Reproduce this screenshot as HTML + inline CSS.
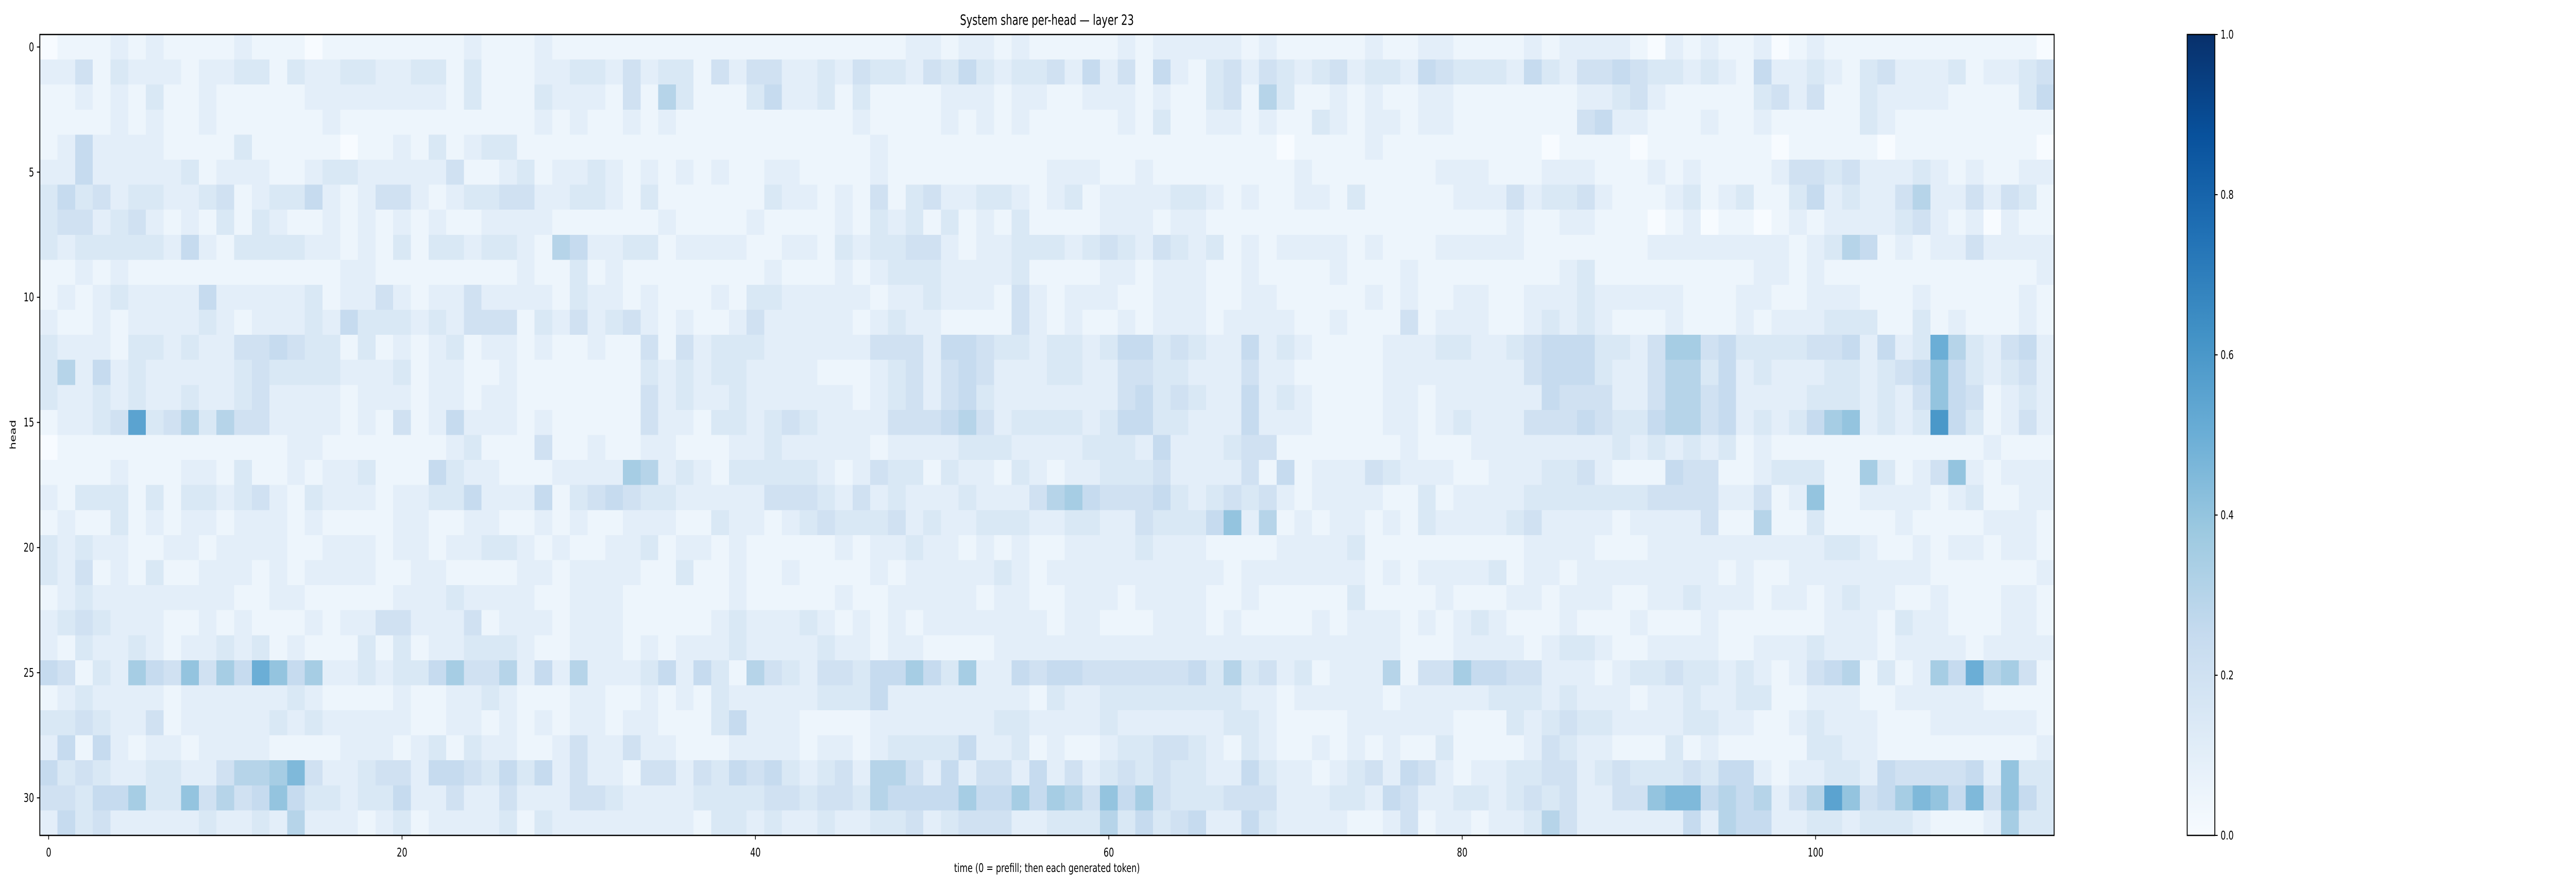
<!DOCTYPE html>
<html><head><meta charset="utf-8"><title>System share per-head — layer 23</title>
<style>
html,body{margin:0;padding:0;background:#fff;width:100%;height:100%;overflow:hidden;}
svg{display:block;width:100vw;height:100vh;font-family:"DejaVu Sans","Liberation Sans",sans-serif;}
</style></head>
<body>
<svg id="fig" viewBox="0 0 7182 1728" preserveAspectRatio="none" xmlns="http://www.w3.org/2000/svg">
<defs>
<linearGradient id="blues" x1="0" y1="1" x2="0" y2="0">
<stop offset="0" stop-color="#f7fbff"/><stop offset="0.125" stop-color="#deebf7"/>
<stop offset="0.25" stop-color="#c6dbef"/><stop offset="0.375" stop-color="#9ecae1"/>
<stop offset="0.5" stop-color="#6baed6"/><stop offset="0.625" stop-color="#4292c6"/>
<stop offset="0.75" stop-color="#2171b5"/><stop offset="0.875" stop-color="#08519c"/>
<stop offset="1" stop-color="#08306b"/>
</linearGradient>
</defs>
<rect x="0" y="0" width="7182" height="1728" fill="#fff"/>
<text x="2919" y="48" font-size="28" text-anchor="middle" fill="#000">System share per-head — layer 23</text>
<g id="cells" shape-rendering="crispEdges"></g>
<rect x="111" y="67" width="5616" height="1555" fill="none" stroke="#000" stroke-width="2.5"/>
<g id="xticks"></g>
<g id="yticks"></g>
<text x="2919" y="1693" font-size="23" text-anchor="middle" fill="#000">time (0 = prefill; then each generated token)</text>
<text x="0" y="0" font-size="23" text-anchor="middle" fill="#000" transform="translate(44,844) rotate(-90)">head</text>
<rect x="6098" y="67" width="77" height="1555" fill="url(#blues)"/>
<rect x="6098" y="67" width="77" height="1555" fill="none" stroke="#000" stroke-width="2.5"/>
<g id="cbticks"></g>
</svg>
<script>
const heads = Array.from({length: 32}, (_, i) => i);
const xTickLabels = [0, 20, 40, 60, 80, 100];
const yTickLabels = [0, 5, 10, 15, 20, 25, 30];
const cbTickLabels = ["0.0", "0.2", "0.4", "0.6", "0.8", "1.0"];
const cbTickValues = [0, 0.2, 0.4, 0.6, 0.8, 1.0];
// each char = value/0.05 (base 36), one string per head, 114 time steps
const shareRows = [
"0111212111121110111"+"1111121112111111111"+"1111111111122122121"+"1111212222212111112"+"1122111121222210212"+"1120121111111111110",
"2241322212233132233"+"2233131112233242331"+"4244223243324353233"+"4252415213424323423"+"3254333253244543323"+"2152232134222312234",
"1121213112111112222"+"2222131113222141631"+"1135223131111222122"+"1122212113416311212"+"1122111111122342111"+"1134241132222111135",
"1111212112111111211"+"1111111112121121211"+"1111111121111212121"+"1111213112212113212"+"2122111111145221112"+"1121111132111111111",
"1252222111131111101"+"1213123311111111111"+"1111111112111111111"+"1111111111111011112"+"1111111110111101111"+"1110111110111111110",
"2252222231222112332"+"2222411231223212121"+"2112211112111111111"+"2221121111111121111"+"1112221112221112121"+"1112443422232121122",
"3534233223412335212"+"4421233442233213111"+"1113221214134223321"+"2312222332121122131"+"1111222423342111231"+"2311352322462242431",
"3442342121313211212"+"1212112222111111211"+"1121111213231312131"+"1112221221111111111"+"1111111211221110120"+"1101212222342120211",
"3233333252133332212"+"1313323321652233122"+"2211221323344212233"+"3234324323121222212"+"1112222211111112222"+"2222123651212242222",
"1121211111111111122"+"1111111121131211111"+"1112111212333222231"+"1112212221121111211"+"1211111111231111111"+"1122121111111111112",
"1212322225222223122"+"4212242222132212111"+"2133222221223222142"+"1222112221122111112"+"1211221122232222211"+"1221122211121111121",
"2112122223212223253"+"3323244413242342121"+"1242222212322111142"+"1211212221222211211"+"1412221123232111211"+"1212223331131211121",
"3222133232244543313"+"1212312212112114142"+"3332222224442554332"+"3323553432252321111"+"2223322345553324774"+"533334452523a632452",
"3625232222234333322"+"2312211211111113232"+"3322221112342454222"+"3322443322242211111"+"2222222245553224663"+"5232223323458532342",
"3223232232234222212"+"2212212211111114232"+"2322222212342453222"+"2222453432252321111"+"2212222225444224664"+"5222233323248541232",
"12234b3463644222212"+"1412522212111114221"+"3323432222444564233"+"3323553322252221111"+"2212322244454335664"+"523235782323c531242",
"0111111111111122111"+"1111231114112112211"+"1223222221222233322"+"2233325222344111111"+"1211122222222323232"+"3121111111111112111",
"1111211122131121223"+"1115322111222276232"+"1333332124331322132"+"1223334222241512224"+"3222112223342111544"+"1123331173124821222",
"2133313133234213222"+"1223352225134543322"+"2224443242322232224"+"6754445323434212222"+"1131222233333334444"+"2241281122221231122",
"1211312122122212111"+"1221122112121122211"+"3221234333423223332"+"2332243335826121221"+"2132222342222122224"+"1161131111211112221",
"3232211221222211222"+"1221223321211223122"+"1211111212232212121"+"1222232221111222231"+"1111111122221112222"+"2222223321121221221",
"3241213112221212222"+"1122111122122221131"+"1211211112122222321"+"2222222222122222221"+"2122223122122222222"+"1211222222221111112",
"1232222222211221111"+"1222322221122211111"+"1211111211222221221"+"1222122221121111131"+"1112111221222112232"+"2212212322112111221",
"2343222112121112122"+"4422241222122211111"+"2322232121212222222"+"1221112221211112122"+"2121232111211121112"+"1111112221322111221",
"2132232122323121113"+"1312233321122212122"+"2322223221221111222"+"2222222222222222222"+"2111222212332112222"+"1122232221222212222",
"541327548475a857223"+"2335744625262223525"+"3164324435575372254"+"5544444453634231222"+"6144755442221233433"+"23212456131275a6741",
"1232222122222232111"+"1211223211122112121"+"3222223335222222221"+"3223333333322122222"+"1222223332322212232"+"2331122211222221111",
"3343224122222323222"+"2211221212122122111"+"3522211112222222332"+"2223222222332111122"+"2222111323433222233"+"2211232221112222221",
"2515212212222111122"+"2123132211242242211"+"1222212212333352231"+"2112334432132112121"+"2113111124322111312"+"1111133221111111112",
"5343223322466794223"+"4425543535242214424"+"3545323426642524425"+"2423434332253221234"+"2542122334423433343"+"5521223325444452833",
"4435573384645853323"+"3522422422244322223"+"3334434436555575575"+"7648574333444222332"+"5422332343422448995"+"656246b845798594853",
"2534222223223262221"+"2312222313222222221"+"3323223223342344422"+"3336353452253222211"+"2412212236422222252"+"6552233233321112733"
];
const NS = "http://www.w3.org/2000/svg";
const X0 = 111, X1 = 5727, Y0 = 67, Y1 = 1622;
const nT = 114, nH = heads.length;
const cw = (X1 - X0) / nT, chh = (Y1 - Y0) / nH;
function xPos(t) { return X0 + (t + 0.5) * cw; }
function yPos(h) { return Y0 + (h + 0.5) * chh; }
const stops = [[247,251,255],[222,235,247],[198,219,239],[158,202,225],[107,174,214],[66,146,198],[33,113,181],[8,81,156],[8,48,107]];
function blues(v) {
  v = Math.max(0, Math.min(1, v)) * 8;
  const i = Math.min(7, Math.floor(v)), f = v - i;
  const a = stops[i], b = stops[i + 1];
  return "rgb(" + a.map((c, k) => Math.round(c + (b[k] - c) * f)).join(",") + ")";
}
function mk(tag, attrs) { const e = document.createElementNS(NS, tag); for (const k in attrs) e.setAttribute(k, attrs[k]); return e; }
const cells = document.getElementById("cells");
heads.forEach((h) => {
  const row = shareRows[h];
  for (let t = 0; t < row.length && t < nT; t++) {
    const v = parseInt(row[t], 36) * 0.05;
    const r = mk("rect", {x: (xPos(t) - cw / 2).toFixed(2), y: (yPos(h) - chh / 2).toFixed(2), width: (cw + 0.6).toFixed(2), height: (chh + 0.6).toFixed(2), fill: blues(v)});
    
    
    cells.appendChild(r);
  }
});
const xg = document.getElementById("xticks");
xTickLabels.forEach((t) => {
  const x = xPos(t);
  const l = mk("line", {x1: x, y1: Y1, x2: x, y2: Y1 + 8, stroke: "#000", "stroke-width": 2});
  
  
  xg.appendChild(l);
  const tx = mk("text", {x: x, y: Y1 + 41, "font-size": 23, "text-anchor": "middle", fill: "#000"});
  tx.textContent = t;
  
  
  xg.appendChild(tx);
});
const yg = document.getElementById("yticks");
yTickLabels.forEach((h) => {
  const y = yPos(h);
  const l = mk("line", {x1: X0 - 8, y1: y, x2: X0, y2: y, stroke: "#000", "stroke-width": 2});
  
  
  yg.appendChild(l);
  const tx = mk("text", {x: X0 - 16, y: y + 8, "font-size": 23, "text-anchor": "end", fill: "#000"});
  tx.textContent = h;
  
  
  yg.appendChild(tx);
});
const cg = document.getElementById("cbticks");
cbTickValues.forEach((v, i) => {
  const y = Y1 - v * (Y1 - Y0);
  const l = mk("line", {x1: 6175, y1: y, x2: 6183, y2: y, stroke: "#000", "stroke-width": 2});
  
  
  cg.appendChild(l);
  const tx = mk("text", {x: 6191, y: y + 8, "font-size": 23, "text-anchor": "start", fill: "#000"});
  tx.textContent = cbTickLabels[i];
  
  
  cg.appendChild(tx);
});
</script>
</body></html>
